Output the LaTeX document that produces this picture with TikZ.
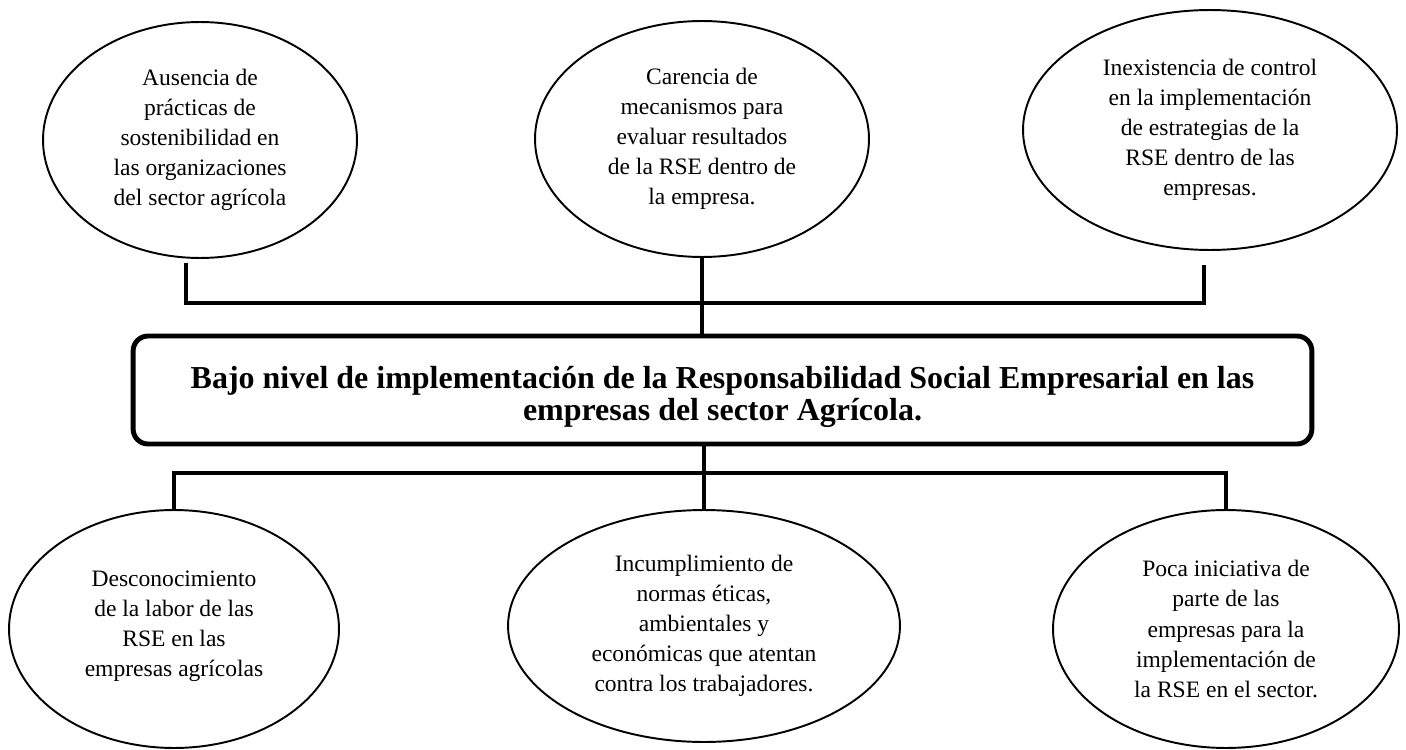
\documentclass[tikz,border=0pt]{standalone}
\usepackage{fontspec}
\setmainfont{Liberation Serif}
\usepackage{tikz}
\usetikzlibrary{shapes.geometric}
\tikzset{
	causa/.style={draw, ellipse, line width=1.1pt, inner sep=0pt, align=center, font=\fontsize{13.4pt}{17.1pt}\selectfont},
	problema/.style={draw, rounded corners=8.5pt, line width=2.8pt, inner sep=0pt, minimum width=23.58cm, minimum height=2.16cm, font=\bfseries\fontsize{18.2pt}{18.6pt}\selectfont},
	enlace/.style={line width=2.2pt}
}
\begin{document}
\begin{tikzpicture}[line cap=rect,line join=miter,x=0.02cm,y=-0.02cm]
		\useasboundingbox (0,0) rectangle (1406,750);
		\node[causa, minimum width=6.28cm, minimum height=4.72cm] (c1) at (200,140) {Ausencia de\\prácticas de\\sostenibilidad en\\las organizaciones\\del sector agrícola};
		\node[causa, minimum width=6.68cm, minimum height=4.72cm] (c2) at (702,139) {Carencia de\\mecanismos para\\evaluar resultados\\de la RSE dentro de\\la empresa.};
		\node[causa, minimum width=7.48cm, minimum height=4.80cm] (c3) at (1210,130) {Inexistencia de control\\en la implementación\\de estrategias de la\\RSE dentro de las\\empresas.};
		\node[problema] (p) at (722.5,390) {\raisebox{-4.6pt}[\height][\depth]{\begin{tabular}{@{}c@{}}Bajo nivel de implementación de la Responsabilidad Social Empresarial en las\\empresas del sector Agrícola.\end{tabular}}};
		\node[causa, minimum width=6.60cm, minimum height=4.76cm] (e1) at (174,629) {\raisebox{2.2pt}[\height][\depth]{\begin{tabular}{@{}c@{}}Desconocimiento\\de la labor de las\\RSE en las\\empresas agrícolas\end{tabular}}};
		\node[causa, minimum width=7.84cm, minimum height=4.64cm] (e2) at (704,626) {Incumplimiento de\\normas éticas,\\ambientales y\\económicas que atentan\\contra los trabajadores.};
		\node[causa, minimum width=6.92cm, minimum height=4.76cm] (e3) at (1226,629) {Poca iniciativa de\\parte de las\\empresas para la\\implementación de\\la RSE en el sector.};
		\coordinate (k1) at (186,265);
		\coordinate (k3) at (1204,267);
		\coordinate (h1) at (186,303);
		\coordinate (h3) at (1204,303);
		\coordinate (b) at (0,473);
		\draw [enlace] (k1)-- (h1)-- (h3)-- (k3);
		\draw [enlace] (c2.south)-- (c2.south |- p.north);
		\draw [enlace] (e1.north)-- (e1.north |- b)-- (e3.north |- b)-- (e3.north);
		\draw [enlace] (e2.north |- p.south)-- (e2.north);
	\end{tikzpicture}
\end{document}
